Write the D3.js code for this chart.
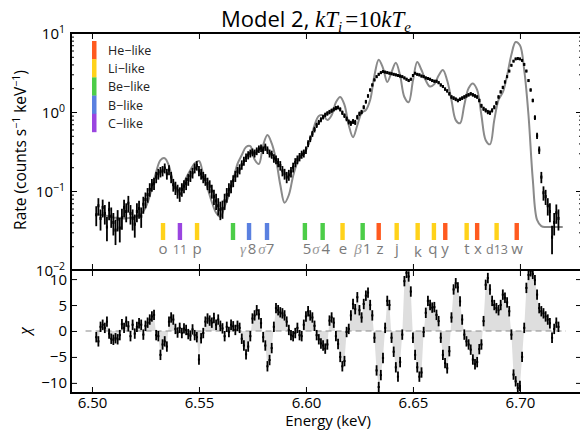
<!DOCTYPE html>
<html>
<head>
<meta charset="utf-8">
<script src="https://cdn.jsdelivr.net/npm/d3@7"></script>
<style>
body { margin: 0; background: #fff; }
text { font-family: "Open Sans", sans-serif; }
</style>
</head>
<body>
<div id="container"></div>
<script>
//Width and height
var w = 580;
var h = 430;

//spectrum bins (keV)
var binStart = 6.502;
var binWidth = 0.001;

//observed rate, counts s^-1 keV^-1, one value per bin (6.502 ... 6.718)
var rate = [
    0.050, 0.065, 0.045, 0.062, 0.052, 0.035, 0.058, 0.048,
    0.040, 0.032, 0.044, 0.034, 0.046, 0.062, 0.055, 0.070, 0.052, 0.045,
    0.038, 0.055, 0.060, 0.048, 0.068, 0.078, 0.090, 0.105, 0.120, 0.125,
    0.150, 0.165, 0.175, 0.180, 0.195, 0.165, 0.185, 0.150, 0.120, 0.110,
    0.100, 0.092, 0.105, 0.115, 0.125, 0.140, 0.155, 0.170, 0.195, 0.210,
    0.180, 0.165, 0.150, 0.140, 0.125, 0.115, 0.100, 0.085, 0.075, 0.065,
    0.058, 0.060, 0.075, 0.090, 0.105, 0.115, 0.135, 0.155, 0.175, 0.190,
    0.215, 0.240, 0.265, 0.285, 0.300, 0.310, 0.300, 0.320, 0.340, 0.350,
    0.330, 0.360, 0.330, 0.300, 0.290, 0.260, 0.250, 0.230, 0.210, 0.180,
    0.165, 0.150, 0.160, 0.175, 0.200, 0.230, 0.250, 0.270, 0.290, 0.300,
    0.330, 0.400, 0.460, 0.530, 0.600, 0.680, 0.740, 0.800, 0.860, 0.920,
    0.96, 1.00, 1.04, 1.08, 1.12, 1.14, 1.08, 0.98, 0.90, 0.82,
    0.75, 0.72, 0.76, 0.74, 0.86, 0.95, 1.00, 1.15, 1.35, 1.60,
    1.90, 2.20, 2.55, 2.80, 3.00, 3.15, 3.25, 3.20, 3.15, 3.10,
    3.05, 3.00, 2.95, 2.90, 2.85, 2.80, 2.70, 2.60, 2.50, 2.60,
    2.90, 3.10, 3.00, 2.95, 2.85, 2.80, 2.70, 2.65, 2.60, 2.50,
    2.45, 2.45, 2.35, 2.20, 2.10, 1.95, 1.85, 1.70, 1.55, 1.50,
    1.45, 1.40, 1.45, 1.50, 1.55, 1.60, 1.65, 1.70, 1.65, 1.60,
    1.55, 1.40, 1.20, 1.10, 1.05, 1.00, 0.98, 1.05, 1.15, 1.30,
    1.55, 1.80, 2.05, 2.40, 2.80, 3.30, 3.90, 4.40, 4.70, 4.75,
    4.70, 4.50, 4.00, 3.30, 2.50, 1.90, 1.40, 0.85, 0.50, 0.33,
    0.150, 0.095, 0.085, 0.065, 0.055, 0.026, 0.040, 0.053, 0.045
];

//residuals, same bins
var chi = [
    -1.2, -2.0, 0.8, 1.2, 0.6, 1.8, -0.5, -1.5,
    -1.7, -1.4, -1.6, -0.8, 1.3, 0.6, 1.8, 0.9, -1.0, 1.2,
    -0.5, 0.8, 1.5, 1.2, -0.7, 1.0, 1.6, 2.2, 2.8, 3.1,
    -0.8, -1.0, -4.6, -2.6, -2.0, -3.0, 1.8, 2.6, 2.2, 0.4,
    -0.3, 0.6, -0.4, 0.5, 0.2, -0.6, -0.9, 0.3, -0.8, -1.2,
    -5.5, -1.4, -0.4, 1.8, 2.4, 2.0, 1.6, 2.5, 1.2, 2.2,
    1.0, 0.5, -1.0, 0.8, -0.2, 1.2, 0.9, 0.2, 1.0, 0.6,
    -1.5, -2.8, -4.5, -3.0, -1.0, 2.4, 3.0, 4.0, 3.2, 1.5,
    -1.2, -2.8, -6.8, -5.6, -3.3, 0.8, 4.4, 4.0, 3.6, 3.4,
    3.0, 1.8, 0.2, -0.8, -1.0, -0.4, 0.6, -0.8, -1.0, 1.2,
    2.8, 3.8, 3.0, 2.6, 1.0, -0.8, -1.6, -2.4, -2.8, -3.4,
    -2.6, 2.0, 2.6, 1.6, -1.0, -2.5, -5.0, -6.8, -5.8, -0.2,
    0.4, 3.0, 5.2, 4.2, 6.5, 4.0, 2.6, 5.2, 6.8, 7.4,
    5.0, 3.0, -1.3, -7.6, -10.8, -8.5, -5.2, 0.6, 5.8, 5.0,
    -1.3, -4.0, -7.0, -8.8, -6.0, -0.7, 9.6, 11.2, 10.5, 7.6,
    -1.3, -4.6, -7.0, -8.8, -8.0, -0.2, 3.5, 5.8, 5.0, 4.5,
    4.6, 3.1, 1.9, -1.3, -4.6, -6.2, -7.2, -3.9, 2.6, 8.0,
    9.2, 8.4, 5.7, 2.2, -0.7, -2.0, -2.6, -3.6, -5.5, -6.4,
    -6.0, -3.5, -2.6, 1.9, 8.9, 10.2, 8.0, 5.8, 5.0, 4.4,
    4.0, 5.0, 7.0, 6.4, 5.5, 3.8, -0.7, -8.4, -9.7, -11.0,
    -10.6, -5.0, 0.6, 8.3, 10.8, 11.5, 11.0, 9.8, 7.0, 4.4,
    3.8, 3.4, 2.8, 2.2, 1.5, -1.3, 0.4, 1.6, 0.8
];

//model curve, 6.502 ... 6.720 every 0.002 keV
var modelStart = 6.502;
var modelStep = 0.002;
var model = [
    0.051, 0.050, 0.049, 0.048, 0.046, 0.046, 0.045, 0.045, 0.046, 0.047,
    0.049, 0.055, 0.071, 0.110, 0.174, 0.246, 0.260, 0.207, 0.130, 0.103,
    0.110, 0.146, 0.184, 0.225, 0.240, 0.162, 0.109, 0.073, 0.053, 0.047,
    0.064, 0.089, 0.138, 0.220, 0.285, 0.360, 0.370, 0.250, 0.220, 0.380,
    0.510, 0.400, 0.250, 0.120, 0.071, 0.089, 0.155, 0.230, 0.285, 0.330,
    0.44, 0.68, 0.89, 0.91, 0.79, 0.91, 1.33, 1.55, 1.23, 0.68,
    0.48, 0.68, 0.97, 1.06, 1.42, 2.90, 4.60, 3.60, 2.40, 3.20,
    4.20, 2.90, 1.55, 1.33, 2.50, 4.30, 3.40, 2.50, 2.10, 2.25,
    2.90, 3.40, 2.50, 1.42, 0.79, 0.72, 1.23, 2.00, 2.30, 1.90,
    0.91, 0.44, 0.39, 0.79, 1.42, 1.78, 2.90, 5.30, 7.70, 7.00,
    3.40, 0.91, 0.14, 0.043, 0.036, 0.035, 0.035, 0.035, 0.035, 0.035
];

//counting statistics: sigma = sqrt(rate / exposure)
var exposure = 250;

//ion legend
var ionNames = ['He\u2212like', 'Li\u2212like', 'Be\u2212like', 'B\u2212like', 'C\u2212like'];
var ionColors = ['#ff5a1f', '#ffd21a', '#4ccd48', '#5a80e0', '#9a45e0'];

//line markers: energy and ion index
var lineEnergies = [6.5332, 6.5411, 6.5491, 6.5659, 6.5734, 6.5818, 6.5995, 6.6078, 6.6171,
    6.6265, 6.6340, 6.6424, 6.6522, 6.6598, 6.6651, 6.6751, 6.6800, 6.6891, 6.6985];
var lineIons = [1, 4, 1, 2, 3, 3, 2, 2, 1, 2, 0, 1, 1, 1, 0, 1, 0, 1, 0];

//line labels and where they sit
var labelTexts = ['o', '11', 'p', '\u03b3', '8', '\u03c3', '7', '5', '\u03c3', '4', 'e', '\u03b2', '1',
    'z', 'j', 'k', 'q', 'y', 't', 'x', 'd13', 'w'];
var labelEnergies = [6.5332, 6.5411, 6.5491, 6.5706, 6.5748, 6.5794, 6.5832, 6.6005, 6.6047, 6.6093,
    6.6173, 6.6243, 6.6285, 6.6346, 6.6425, 6.6523, 6.6593, 6.6650, 6.6752, 6.6804, 6.6893, 6.6986];

var xTicks = [6.50, 6.55, 6.60, 6.65, 6.70];
var chiTicks = [-10, -5, 0, 5, 10];
var rateDecades = [-2, -1, 0, 1];

//panel geometry
var left = 71, right = 582, top1 = 33, bot1 = 270, bot2 = 393;

var points = rate.map(function(r, i) {
    return { e: binStart + i * binWidth, r: r, s: Math.sqrt(r / exposure), c: chi[i] };
});
var modelPts = model.map(function(m, i) {
    return { e: modelStart + i * modelStep, m: m };
});

var x = d3.scaleLinear().domain([6.4902, 6.7290]).range([left, right]);
var yTop = d3.scaleLog().domain([0.01, 10]).range([bot1, top1]);
var yChi = d3.scaleLinear().domain([-11.95, 11.75]).range([bot2, bot1]);

var svg = d3.select('#container')
    .append('svg')
    .attr('width', w)
    .attr('height', h)
    .style('background', '#fff');

var defs = svg.append('defs');
defs.append('clipPath').attr('id', 'clip1').append('rect')
    .attr('x', left).attr('y', top1).attr('width', right - left).attr('height', bot1 - top1);
defs.append('clipPath').attr('id', 'clip2').append('rect')
    .attr('x', left).attr('y', bot1).attr('width', right - left).attr('height', bot2 - bot1);

//title
var title = svg.append('text')
    .attr('x', 221)
    .attr('y', 27)
    .style('font-size', '22px')
    .attr('fill', '#000');
title.append('tspan').text('Model 2, ');
var mathFont = '"Liberation Serif", "DejaVu Serif", serif';
title.append('tspan').style('font-family', mathFont).style('font-style', 'italic').style('font-size', '23px').text('kT');
title.append('tspan').style('font-family', mathFont).style('font-style', 'italic').style('font-size', '15px').attr('dy', 5).text('i');
title.append('tspan').style('font-family', mathFont).style('font-size', '23px').attr('dy', -5).attr('dx', 3).text('=10');
title.append('tspan').style('font-family', mathFont).style('font-style', 'italic').style('font-size', '23px').text('kT');
title.append('tspan').style('font-family', mathFont).style('font-style', 'italic').style('font-size', '15px').attr('dy', 5).text('e');

//---- top panel ----
var p1 = svg.append('g').attr('clip-path', 'url(#clip1)');

//line markers
p1.selectAll('rect.marker')
    .data(lineEnergies)
    .enter()
    .append('rect')
    .attr('class', 'marker')
    .attr('x', function(d) { return x(d) - 2.2; })
    .attr('y', 223)
    .attr('width', 4.4)
    .attr('height', 17)
    .attr('fill', function(d, i) { return ionColors[lineIons[i]]; });

//line labels
var greek = /[\u03b2\u03b3\u03c3]/;
p1.selectAll('text.lab')
    .data(labelTexts)
    .enter()
    .append('text')
    .attr('class', 'lab')
    .attr('x', function(d, i) { return x(labelEnergies[i]); })
    .attr('y', function(d) { return d === 'k' ? 257 : 254; })
    .attr('text-anchor', 'middle')
    .style('font-family', function(d) { return greek.test(d) ? mathFont : null; })
    .style('font-style', function(d) { return greek.test(d) ? 'italic' : 'normal'; })
    .style('font-size', function(d) { return (d === '11' || d === 'd13') ? '12.5px' : '15px'; })
    .attr('fill', function(d) { return greek.test(d) ? '#9a9a9a' : '#7a7a7a'; })
    .text(function(d) { return d; });

//model
var line = d3.line()
    .x(function(d) { return x(d.e); })
    .y(function(d) { return yTop(d.m); })
    .curve(d3.curveCatmullRom);
p1.append('path')
    .datum(modelPts)
    .attr('fill', 'none')
    .attr('stroke', '#8a8a8a')
    .attr('stroke-width', 2)
    .attr('d', line);

//data with error bars
p1.selectAll('line.err')
    .data(points)
    .enter()
    .append('line')
    .attr('x1', function(d) { return x(d.e); })
    .attr('x2', function(d) { return x(d.e); })
    .attr('y1', function(d) { return yTop(d.r + d.s); })
    .attr('y2', function(d) { return yTop(Math.max(d.r - d.s, 0.002)); })
    .attr('stroke', '#000')
    .attr('stroke-width', 1.8);
p1.selectAll('line.bin')
    .data(points)
    .enter()
    .append('line')
    .attr('x1', function(d) { return x(d.e - binWidth / 2); })
    .attr('x2', function(d) { return x(d.e + binWidth / 2); })
    .attr('y1', function(d) { return yTop(d.r); })
    .attr('y2', function(d) { return yTop(d.r); })
    .attr('stroke', '#000')
    .attr('stroke-width', 3);

//legend
var legend = svg.append('g');
legend.selectAll('rect')
    .data(ionNames)
    .enter()
    .append('rect')
    .attr('x', 92)
    .attr('y', function(d, i) { return 41 + i * 18.2; })
    .attr('width', 4.5)
    .attr('height', 18.4)
    .attr('fill', function(d, i) { return ionColors[i]; });
legend.selectAll('text')
    .data(ionNames)
    .enter()
    .append('text')
    .attr('x', 108)
    .attr('y', function(d, i) { return 55 + i * 18.2; })
    .style('font-size', '12.5px')
    .attr('fill', '#222')
    .text(function(d) { return d; });

//---- bottom panel ----
var p2 = svg.append('g').attr('clip-path', 'url(#clip2)');

var area = d3.area()
    .x(function(d) { return x(d.e); })
    .y0(yChi(0))
    .y1(function(d) { return yChi(d.c); });
p2.append('path')
    .datum(points)
    .attr('fill', '#dedede')
    .attr('d', area);

p2.append('line')
    .attr('x1', x(6.497))
    .attr('x2', x(6.7215))
    .attr('y1', yChi(0))
    .attr('y2', yChi(0))
    .attr('stroke', '#8a8a8a')
    .attr('stroke-width', 1.2)
    .attr('stroke-dasharray', '6,4');

p2.selectAll('line.cerr')
    .data(points)
    .enter()
    .append('line')
    .attr('x1', function(d) { return x(d.e); })
    .attr('x2', function(d) { return x(d.e); })
    .attr('y1', function(d) { return yChi(d.c + 1); })
    .attr('y2', function(d) { return yChi(d.c - 1); })
    .attr('stroke', '#000')
    .attr('stroke-width', 1.8);
p2.selectAll('line.cbin')
    .data(points)
    .enter()
    .append('line')
    .attr('x1', function(d) { return x(d.e - binWidth / 2); })
    .attr('x2', function(d) { return x(d.e + binWidth / 2); })
    .attr('y1', function(d) { return yChi(d.c); })
    .attr('y2', function(d) { return yChi(d.c); })
    .attr('stroke', '#000')
    .attr('stroke-width', 2);

//---- axes ----
function styleAxis(g) {
    g.select('.domain').remove();
    g.selectAll('.tick line').attr('stroke', '#000').attr('stroke-width', 1);
    g.selectAll('.tick text').style('font-size', '15px').attr('fill', '#000');
}

//x ticks on every horizontal spine
svg.append('g').attr('transform', 'translate(0,' + top1 + ')')
    .call(d3.axisTop(x).tickValues(xTicks).tickSize(-6).tickFormat(''))
    .call(styleAxis);
svg.append('g').attr('transform', 'translate(0,' + bot1 + ')')
    .call(d3.axisBottom(x).tickValues(xTicks).tickSize(-6).tickFormat(''))
    .call(styleAxis);
svg.append('g').attr('transform', 'translate(0,' + bot1 + ')')
    .call(d3.axisTop(x).tickValues(xTicks).tickSize(-6).tickFormat(''))
    .call(styleAxis);
svg.append('g').attr('transform', 'translate(0,' + bot2 + ')')
    .call(d3.axisBottom(x).tickValues(xTicks).tickSize(-6).tickPadding(4).tickFormat(d3.format('.2f')))
    .call(styleAxis);

//log rate axis: major and minor ticks, both sides
var majors = rateDecades.map(function(p) { return Math.pow(10, p); });
var minors = yTop.ticks().filter(function(v) { return majors.indexOf(v) < 0; });
[[left, d3.axisLeft], [right, d3.axisRight]].forEach(function(s) {
    svg.append('g').attr('transform', 'translate(' + s[0] + ',0)')
        .call(s[1](yTop).tickValues(majors).tickSize(-6).tickFormat(''))
        .call(styleAxis);
    svg.append('g').attr('transform', 'translate(' + s[0] + ',0)')
        .call(s[1](yTop).tickValues(minors).tickSize(-3).tickFormat(''))
        .call(styleAxis);
    svg.append('g').attr('transform', 'translate(' + s[0] + ',0)')
        .call(s[1](yChi).tickValues(chiTicks).tickSize(-6).tickFormat(''))
        .call(styleAxis);
});

//rate tick labels 10^n
rateDecades.forEach(function(p) {
    var t = svg.append('text')
        .attr('x', 65)
        .attr('y', yTop(Math.pow(10, p)) + 5.5)
        .attr('text-anchor', 'end')
        .style('font-size', '15px')
        .attr('fill', '#000');
    t.append('tspan').text('10');
    t.append('tspan').attr('dy', -6).style('font-size', '10.5px').text(String(p).replace('-', '\u2212'));
});

//chi tick labels
svg.selectAll('text.chitick')
    .data(chiTicks)
    .enter()
    .append('text')
    .attr('class', 'chitick')
    .attr('x', 67)
    .attr('y', function(d) { return yChi(d) + 5.5; })
    .attr('text-anchor', 'end')
    .style('font-size', '15px')
    .text(function(d) { return String(d).replace('-', '\u2212'); });

//spines
svg.append('path')
    .attr('d', 'M' + left + ',' + top1 + 'H' + right + 'V' + bot2 + 'H' + left + 'Z')
    .attr('fill', 'none')
    .attr('stroke', '#000')
    .attr('stroke-width', 2);
svg.append('line')
    .attr('x1', left).attr('x2', right)
    .attr('y1', bot1).attr('y2', bot1)
    .attr('stroke', '#000')
    .attr('stroke-width', 2);

//axis labels
svg.append('text')
    .attr('x', 328)
    .attr('y', 426)
    .attr('text-anchor', 'middle')
    .style('font-size', '15px')
    .text('Energy (keV)');

var yl = svg.append('text')
    .attr('transform', 'translate(26,150) rotate(-90)')
    .attr('text-anchor', 'middle')
    .style('font-size', '15.5px');
yl.append('tspan').text('Rate (counts s');
yl.append('tspan').attr('dy', -6).style('font-size', '10.5px').text('\u22121');
yl.append('tspan').attr('dy', 6).text(' keV');
yl.append('tspan').attr('dy', -6).style('font-size', '10.5px').text('\u22121');
yl.append('tspan').attr('dy', 6).text(')');

svg.append('text')
    .attr('transform', 'translate(30,331) rotate(-90)')
    .attr('text-anchor', 'middle')
    .style('font-family', mathFont)
    .style('font-style', 'italic')
    .style('font-size', '17px')
    .text('\u03c7');
</script>
</body>
</html>
